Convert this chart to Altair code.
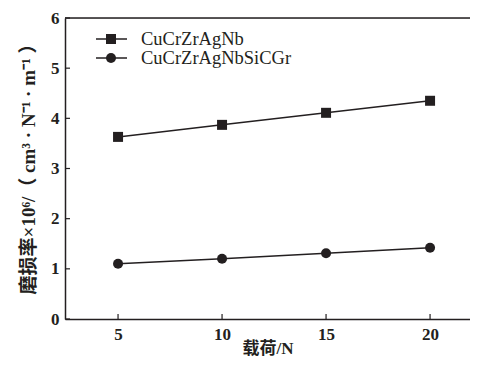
import altair as alt
import pandas as pd

loads = [5, 10, 15, 20]
s1_name = "CuCrZrAgNb"
s2_name = "CuCrZrAgNbSiCGr"
s1_vals = [3.63, 3.87, 4.11, 4.35]
s2_vals = [1.10, 1.20, 1.31, 1.42]
x_ticks = [5, 10, 15, 20]
y_ticks = [0, 1, 2, 3, 4, 5, 6]

W, H = 405, 301
INK = "#231f20"
SERIF = "Liberation Serif, Noto Sans CJK SC"

df = pd.DataFrame({
    "x": loads * 2,
    "y": s1_vals + s2_vals,
    "series": [s1_name] * 4 + [s2_name] * 4,
})

xs = alt.Scale(domain=[2.45, 21.92], nice=False, zero=False)
ys = alt.Scale(domain=[0, 6], nice=False)

shape_scale = alt.Scale(domain=[s1_name, s2_name], range=["square", "circle"])

xaxis = alt.Axis(values=x_ticks, ticks=False, grid=False, domainColor=INK, domainWidth=1.5,
                 labelFont=SERIF, labelFontSize=17, labelFontWeight="bold", labelColor=INK,
                 labelPadding=7, title="载荷/N", titleFont=SERIF, titleFontSize=17,
                 titleFontWeight="bold", titleColor=INK, titleY=38, titleBaseline="bottom")
yaxis = alt.Axis(values=y_ticks, ticks=False, grid=False, domainColor=INK, domainWidth=1.5,
                 labelFont=SERIF, labelFontSize=17, labelFontWeight="bold", labelColor=INK,
                 labelPadding=6, labelBaseline="middle",
                 title="磨损率×10⁶/（ cm³ · N⁻¹ · m⁻¹ ）", titleFont=SERIF, titleFontSize=19,
                 titleFontWeight="bold", titleColor=INK, titleX=-37, titleY=146,
                 titleAngle=-90, titleAlign="center", titleBaseline="middle")

base = alt.Chart(df)
lines = base.mark_line(color=INK, strokeWidth=1.5).encode(
    x=alt.X("x:Q", scale=xs, axis=xaxis),
    y=alt.Y("y:Q", scale=ys, axis=yaxis),
    detail="series:N",
)
points = base.mark_point(filled=True, color=INK, opacity=1, size=100).encode(
    x=alt.X("x:Q", scale=xs, axis=xaxis),
    y=alt.Y("y:Q", scale=ys, axis=yaxis),
    shape=alt.Shape("series:N", scale=shape_scale, legend=None),
)

xt = alt.Chart(pd.DataFrame({"x": x_ticks})).mark_rule(color=INK, strokeWidth=1.2).encode(
    x=alt.X("x:Q", scale=xs, axis=xaxis), y=alt.value(H), y2=alt.value(H - 5))
yt = alt.Chart(pd.DataFrame({"y": y_ticks})).mark_rule(color=INK, strokeWidth=1.2).encode(
    y=alt.Y("y:Q", scale=ys, axis=yaxis), x=alt.value(0), x2=alt.value(5))
top = alt.Chart(pd.DataFrame({"a": [0]})).mark_rule(color=INK, strokeWidth=1.5).encode(
    x=alt.value(0), x2=alt.value(W), y=alt.value(0))

legend_layers = []
for i, name in enumerate([s1_name, s2_name]):
    yy = 21 + i * 19
    d = alt.Chart(pd.DataFrame({"series": [name]}))
    legend_layers.append(d.mark_rule(color=INK, strokeWidth=1.5).encode(
        x=alt.value(31), x2=alt.value(62), y=alt.value(yy)))
    legend_layers.append(d.mark_point(filled=True, color=INK, opacity=1, size=100).encode(
        x=alt.value(46), y=alt.value(yy),
        shape=alt.Shape("series:N", scale=shape_scale, legend=None)))
    legend_layers.append(d.mark_text(align="left", baseline="middle", font=SERIF,
                                     fontSize=18.5, color=INK).encode(
        x=alt.value(76), y=alt.value(yy), text="series:N"))

chart = alt.layer(lines, points, xt, yt, top, *legend_layers).properties(
    width=W, height=H,
    autosize=alt.AutoSizeParams(type="none"),
    padding={"left": 57, "top": 10, "right": 0, "bottom": 38},
).configure_view(stroke=None).configure(background="white")

chart.save("out.html", embed_options={"renderer": "svg", "actions": False})
